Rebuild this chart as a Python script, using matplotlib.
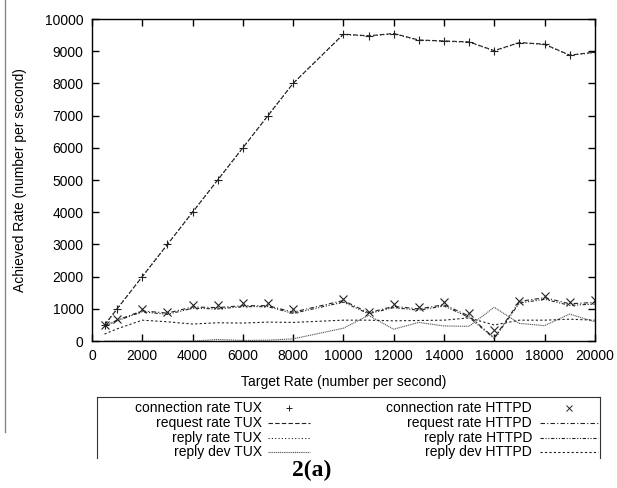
import matplotlib.pyplot as plt
from matplotlib.lines import Line2D

plt.rcParams['font.family'] = ['Liberation Sans', 'DejaVu Sans']

# target rate (no 9000 point in the run)
target = [500, 1000, 2000, 3000, 4000, 5000, 6000, 7000, 8000, 10000,
          11000, 12000, 13000, 14000, 15000, 16000, 17000, 18000, 19000, 20000]

conn_tux = [500, 1000, 2000, 3000, 4000, 5000, 6000, 7000, 8000, 9530,
            9480, 9550, 9350, 9320, 9290, 9020, 9270, 9220, 8880, 8970]
req_tux = [500, 1000, 2000, 3000, 4000, 5000, 6000, 7000, 8000, 9530,
           9480, 9550, 9350, 9320, 9290, 9020, 9270, 9220, 8880, 8970]
reply_tux = [500, 1000, 2000, 3000, 4000, 5000, 6000, 7000, 8000, 9520,
             9470, 9540, 9340, 9310, 9280, 9010, 9260, 9210, 8870, 8960]
dev_tux = [0, 0, 0, 0, 0, 50, 20, 30, 70, 400,
           800, 370, 580, 470, 460, 1050, 550, 480, 840, 600]

conn_httpd = [500, 680, 990, 910, 1130, 1120, 1190, 1190, 990, 1320,
              910, 1140, 1070, 1200, 860, 340, 1250, 1410, 1200, 1270]
req_httpd = [470, 650, 940, 870, 1060, 1040, 1100, 1100, 900, 1260,
             880, 1080, 1000, 1130, 780, 100, 1230, 1350, 1160, 1200]
reply_httpd = [460, 630, 910, 830, 1020, 1000, 1070, 1070, 860, 1210,
               850, 1040, 960, 1090, 740, 80, 1180, 1300, 1110, 1150]
dev_httpd = [220, 380, 650, 600, 530, 570, 560, 590, 580, 650,
             650, 630, 640, 650, 720, 500, 650, 650, 680, 650]

fig = plt.figure(figsize=(6.17, 4.88), dpi=100)
ax = fig.add_axes([0.149, 0.301, 0.815, 0.66])

c = '#222222'
lw = 0.8
lines = []
lines += ax.plot(target, conn_tux, linestyle='none', marker='+', ms=6, mew=0.8, color=c,
                 label='connection rate TUX')
lines += ax.plot(target, req_tux, color=c, lw=lw, dashes=(4, 2), label='request rate TUX')
lines += ax.plot(target, reply_tux, color=c, lw=lw, dashes=(1, 2), label='reply rate TUX')
lines += ax.plot(target, dev_tux, color='#555555', lw=lw, dashes=(1, 0.7), label='reply dev TUX')
lines += ax.plot(target, conn_httpd, linestyle='none', marker='x', ms=6, mew=0.8, color=c,
                 label='connection rate HTTPD')
lines += ax.plot(target, req_httpd, color=c, lw=lw, dashes=(4, 2, 1, 2),
                 label='request rate HTTPD')
lines += ax.plot(target, reply_httpd, color=c, lw=lw, dashes=(3, 1.5, 1, 1.5, 1, 1.5),
                 label='reply rate HTTPD')
lines += ax.plot(target, dev_httpd, color=c, lw=lw, dashes=(2, 2), label='reply dev HTTPD')

ax.set_xlim(0, 20000)
ax.set_ylim(0, 10000)
ax.set_xticks(range(0, 20001, 2000))
ax.set_yticks(range(0, 10001, 1000))
ax.tick_params(direction='in', length=5, width=1, top=True, right=True, labelsize=10, pad=6)
for s in ax.spines.values():
    s.set_linewidth(1)
ax.set_xlabel('Target Rate (number per second)', fontsize=10, labelpad=8)
ax.set_ylabel('Achieved Rate (number per second)', fontsize=10, labelpad=13)

# gnuplot style key below the plot, drawn by hand
W, H = 617.0, 488.0
box_l, box_r, box_t, box_b = 97 / W, 600 / W, 1 - 397 / H, 1 - 458 / H
for xs, ys in [([box_l, box_l], [box_b, box_t]), ([box_l, box_r], [box_t, box_t]),
               ([box_r, box_r], [box_t, box_b])]:
    fig.add_artist(Line2D(xs, ys, color='#333333', lw=0.8))

row_y = [408, 423, 438, 452]
cols = [(262, 268, 310), (532, 540, 598)]
for i, ln in enumerate(lines):
    lab_x, h0, h1 = cols[i // 4]
    y = 1 - row_y[i % 4] / H
    fig.text(lab_x / W, y, ln.get_label(), ha='right', va='center', fontsize=10)
    if ln.get_linestyle() == 'None':
        fig.add_artist(Line2D([(h0 + h1) / 2 / W], [y], linestyle='none',
                              marker=ln.get_marker(), ms=5, mew=0.7, color=c))
    else:
        fig.add_artist(Line2D([h0 / W, h1 / W], [y, y], color=ln.get_color(), lw=lw,
                              dashes=ln._unscaled_dash_pattern[1]))

fig.text(0.505, 0.036, '2(a)', ha='center', va='center', fontsize=17,
         fontweight='bold', family='Liberation Serif')
fig.add_artist(Line2D([0.008, 0.008], [0.115, 1.0], color='#888888', lw=1))

fig.savefig('out.png', dpi=100)
